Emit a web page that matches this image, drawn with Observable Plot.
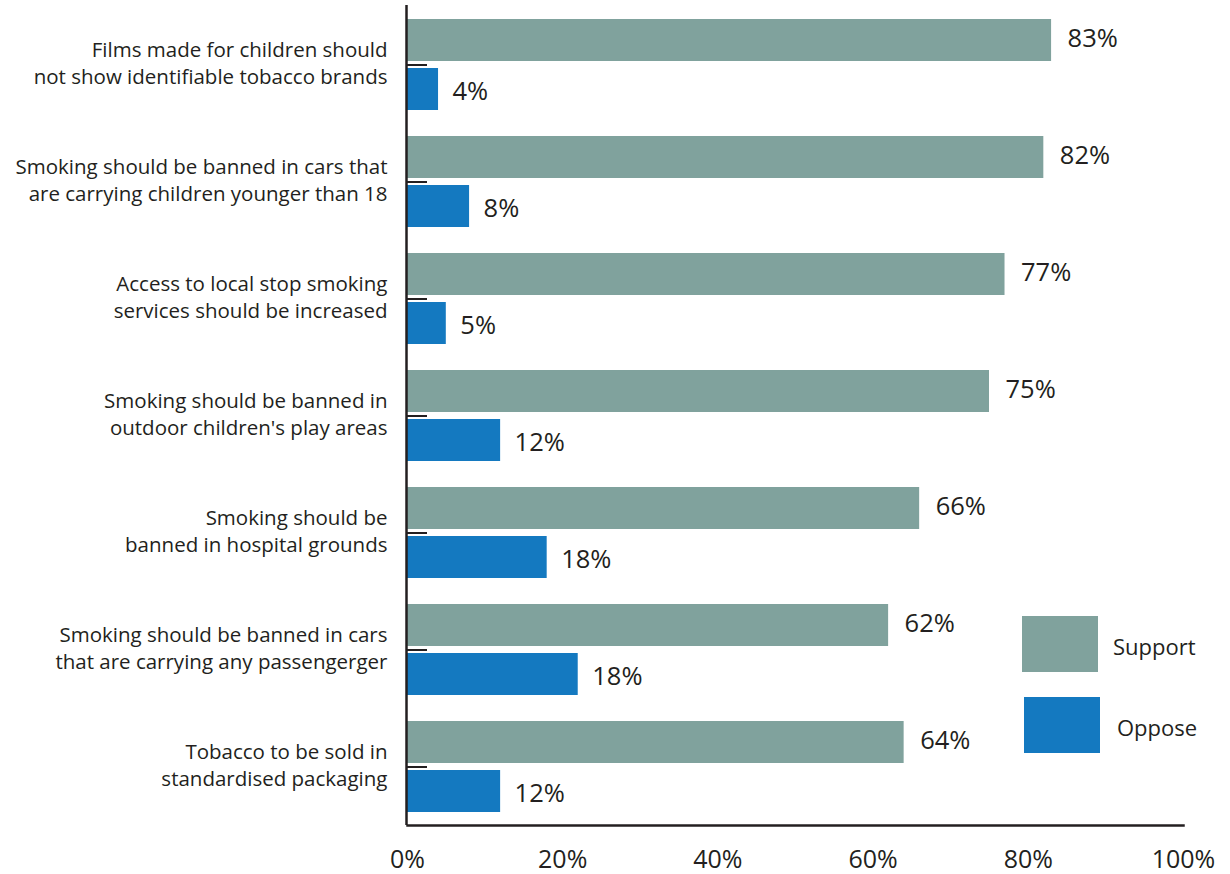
<!DOCTYPE html>
<html><head><meta charset="utf-8">
<script src="https://cdn.jsdelivr.net/npm/d3@7"></script>
<script src="https://cdn.jsdelivr.net/npm/@observablehq/plot@0.6"></script>
<style>
body{margin:0;background:#fff;font-family:"Open Sans",sans-serif;color:#231f20;}
#wrap{position:relative;width:1230px;height:874px;}
.sw{position:absolute;}
.lt{position:absolute;font-size:22px;line-height:1;transform:translateY(-50%);}
</style></head><body><div id="wrap"></div>
<script>
const categories = [
  "Films made for children should\nnot show identifiable tobacco brands",
  "Smoking should be banned in cars that\nare carrying children younger than 18",
  "Access to local stop smoking\nservices should be increased",
  "Smoking should be banned in\noutdoor children's play areas",
  "Smoking should be\nbanned in hospital grounds",
  "Smoking should be banned in cars\nthat are carrying any passengerger",
  "Tobacco to be sold in\nstandardised packaging"
];
const series = ["Support", "Oppose"];
const supportValues = [83, 82, 77, 75, 66, 62, 64];
const opposeValues = [4, 8, 5, 12, 18, 22, 12];
const supportLabels = ["83%", "82%", "77%", "75%", "66%", "62%", "64%"];
const opposeLabels = ["4%", "8%", "5%", "12%", "18%", "18%", "12%"];
const xTicks = [0, 20, 40, 60, 80, 100];
const seriesColors = ["#80a29d", "#1479c0"];

const support = categories.map((c, i) => ({category: c, series: "Support", value: supportValues[i], label: supportLabels[i]}));
const oppose = categories.map((c, i) => ({category: c, series: "Oppose", value: opposeValues[i], label: opposeLabels[i]}));
const ink = "#231f20";

const plot = Plot.plot({
  width: 1230, height: 874,
  marginLeft: 407, marginRight: 47, marginTop: 5, marginBottom: 49,
  style: {fontFamily: "Open Sans, sans-serif", background: "#fff", color: ink, overflow: "visible"},
  x: {domain: [0, 100]},
  y: {domain: categories, paddingInner: 0.2244, paddingOuter: 0.1122},
  color: {domain: series, range: seriesColors},
  marks: [
    Plot.barX(support, {x: "value", y: "category", fill: "series", insetBottom: 49}),
    Plot.barX(oppose, {x: "value", y: "category", fill: "series", insetTop: 49}),
    Plot.text(support, {x: "value", y: "category", text: "label", dy: -26.5, dx: 16, textAnchor: "start", fontSize: 25.5}),
    Plot.text(oppose, {x: "value", y: "category", text: "label", dy: 26.5, dx: 14, textAnchor: "start", fontSize: 25.5}),
    Plot.text(categories, {y: d => d, frameAnchor: "left", textAnchor: "end", dx: -20, dy: -3, fontSize: 20.5, lineHeight: 1.32}),
    Plot.axisY({tickSize: -20, fill: "none", stroke: ink, strokeWidth: 2, label: null}),
    Plot.axisX({ticks: xTicks, tickFormat: d => d + "%", tickSize: 0, tickPadding: 25, fontSize: 25, label: null}),
    Plot.ruleX([0], {dx: -1, strokeWidth: 2.5, stroke: ink}),
    Plot.frame({anchor: "bottom", strokeWidth: 2.5, stroke: ink})
  ]
});
const wrap = document.getElementById("wrap");
wrap.appendChild(plot);

// legend built from the plot's color scale
const col = plot.scale("color");
const legendPos = [
  {sx: 1022, sy: 616, tx: 1113, ty: 646},
  {sx: 1024, sy: 697, tx: 1117, ty: 727}
];
col.domain.forEach((name, i) => {
  const p = legendPos[i];
  const sw = document.createElement("div");
  sw.className = "sw";
  Object.assign(sw.style, {left: p.sx + "px", top: p.sy + "px", width: "76px", height: "56px", background: col.range[i]});
  wrap.appendChild(sw);
  const t = document.createElement("div");
  t.className = "lt";
  t.textContent = name;
  Object.assign(t.style, {left: p.tx + "px", top: p.ty + "px"});
  wrap.appendChild(t);
});
</script></body></html>
